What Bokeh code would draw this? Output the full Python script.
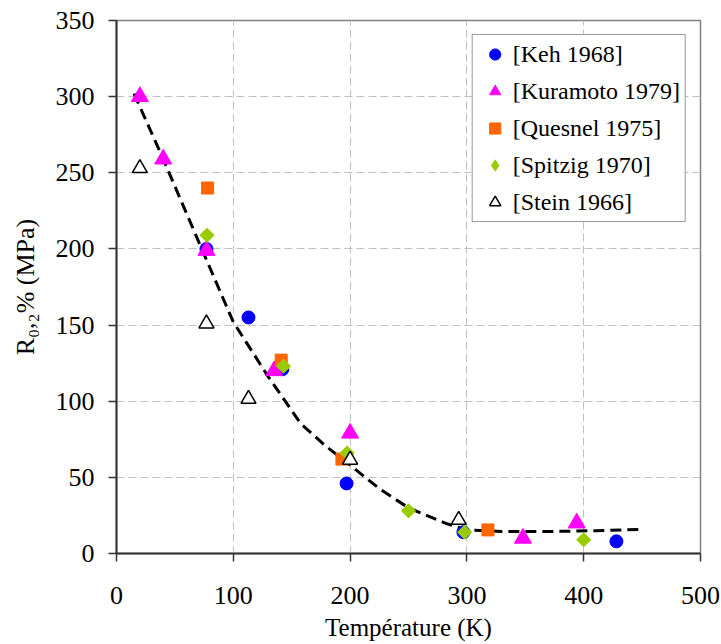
import math
from bokeh.plotting import figure
from bokeh.models import Range1d, SingleIntervalTicker, Legend, LegendItem
from bokeh.embed import file_html
from bokeh.resources import INLINE

# ---- data ----
keh_T = [77, 113, 142, 197, 297, 428]
keh_R = [200, 155, 121, 46, 14, 8]

kuramoto_T = [20, 40, 77, 135, 200, 348, 394]
kuramoto_R = [300, 259, 199, 120, 79, 10, 20]

quesnel_T = [78, 141, 193, 318]
quesnel_R = [240, 127, 62, 15.5]

spitzig_T = [77.5, 143, 197.5, 250, 298, 400]
spitzig_R = [209, 123, 66, 28, 14, 9]

stein_T = [20, 77, 113, 200, 293]
stein_R = [253, 151, 101.5, 61.5, 22]

fit_T = [15, 40, 73, 100, 130, 158, 180, 200, 226, 250, 283, 300, 330, 370, 410, 450]
fit_R = [302, 259, 200, 152, 116, 85, 70, 58, 42, 30, 19.5, 15.5, 14.5, 14.4, 15, 15.8]

x_ticks_interval = 100
y_ticks_interval = 50

FONT = "Liberation Serif"

p = figure(width=721, height=644, output_backend="svg", toolbar_location=None,
           x_range=Range1d(0, 500), y_range=Range1d(0, 350),
           min_border_left=116, min_border_right=21, min_border_top=20,
           min_border_bottom=91)
p.background_fill_color = "white"
p.border_fill_color = "white"
p.outline_line_color = "#808080"
p.outline_line_width = 1.5

# axes
p.xaxis.ticker = SingleIntervalTicker(interval=x_ticks_interval, num_minor_ticks=0)
p.yaxis.ticker = SingleIntervalTicker(interval=y_ticks_interval, num_minor_ticks=0)
for ax in (p.xaxis[0], p.yaxis[0]):
    ax.axis_line_color = "#333333"
    ax.axis_line_width = 2
    ax.major_tick_line_color = "#333333"
    ax.major_tick_line_width = 1.5
    ax.major_tick_out = 8
    ax.major_tick_in = 0
    ax.minor_tick_line_color = None
    ax.major_label_text_font = FONT
    ax.major_label_text_font_size = "26px"
    ax.major_label_text_color = "black"
    ax.axis_label_text_font = FONT
    ax.axis_label_text_font_style = "normal"
    ax.axis_label_text_color = "black"
p.xaxis.major_label_standoff = 25
p.yaxis.major_label_standoff = 14
p.xaxis.axis_label = "Température (K)"
p.xaxis.axis_label_text_font_size = "25px"
p.xaxis.axis_label_standoff = 7
p.yaxis.axis_label = "R\u2080,\u2082% (MPa)"
p.yaxis.axis_label_text_font_size = "26px"
p.yaxis.axis_label_standoff = 13

# grid
p.grid.grid_line_color = "#c0c0c0"
p.grid.grid_line_dash = "8 4"
p.grid.grid_line_width = 1

# fitted curve
p.line(fit_T, fit_R, line_color="black", line_width=3, line_dash="11 6")

# scatter series
r_keh = p.scatter(keh_T, keh_R, marker="circle", size=13, fill_color="#0000FF", line_color="#0000FF")
r_kur = p.scatter(kuramoto_T, kuramoto_R, marker="triangle", size=17, fill_color="#FF00FF", line_color="#FF00FF")
r_que = p.scatter(quesnel_T, quesnel_R, marker="square", size=12, fill_color="#FF6600", line_color="#FF6600")
r_spi = p.scatter(spitzig_T, spitzig_R, marker="square", angle=math.pi / 4, size=10,
                  fill_color="#99CC00", line_color="#99CC00")
r_ste = p.scatter(stein_T, stein_R, marker="triangle", size=15, fill_color="white",
                  line_color="black", line_width=1.5)
# hidden renderer that only provides the diamond glyph of the legend
r_spi_leg = p.scatter(spitzig_T, spitzig_R, marker="diamond", size=17,
                      fill_color="#99CC00", line_color="#99CC00", visible=False)

legend = Legend(items=[
    LegendItem(label="[Keh 1968]", renderers=[r_keh]),
    LegendItem(label="[Kuramoto 1979]", renderers=[r_kur]),
    LegendItem(label="[Quesnel 1975]", renderers=[r_que]),
    LegendItem(label="[Spitzig 1970]", renderers=[r_spi_leg]),
    LegendItem(label="[Stein 1966]", renderers=[r_ste]),
], location="top_right")
legend.margin = 14
legend.padding = 5
legend.spacing = 9
legend.glyph_width = 34
legend.glyph_height = 28
legend.label_height = 28
legend.label_standoff = 1
legend.label_text_font = FONT
legend.label_text_font_size = "24px"
legend.label_text_color = "black"
legend.border_line_color = "#333333"
legend.border_line_width = 1
legend.background_fill_color = "white"
legend.background_fill_alpha = 1
legend.inactive_fill_alpha = 0
p.add_layout(legend, "center")

open("out.html", "w").write(file_html(p, INLINE))
